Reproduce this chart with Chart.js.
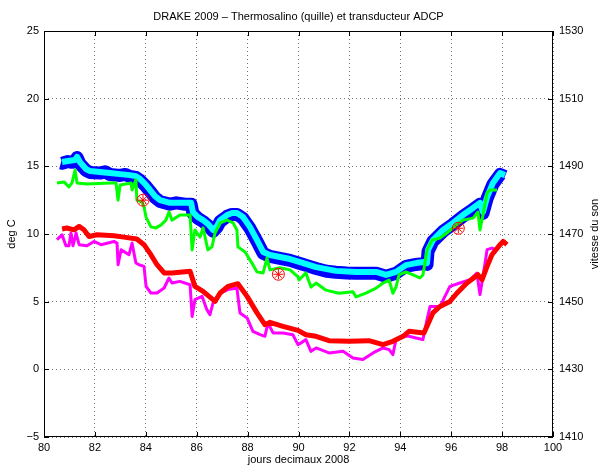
<!DOCTYPE html>
<html>
<head>
<meta charset="utf-8">
<script src="https://cdn.jsdelivr.net/npm/chart.js@4.4.0/dist/chart.umd.min.js"></script>
<style>
  html, body { margin: 0; padding: 0; background: #fff; }
</style>
</head>
<body>
<canvas id="drake" width="602" height="466"></canvas>
<script>
// jours decimaux 2008 et valeurs

// vitesse du son, trace bleu (axe de droite, m/s)
var joursBleu = [80.66,80.71,80.94,81.10,81.22,81.30,81.41,81.65,81.81,82.20,82.40,82.59,82.99,83.20,83.38,83.61,83.77,83.97,84.17,84.36,84.56,84.95,85.20,85.54,85.78,85.85,86.05,86.25,86.44,86.64,86.80,86.92,87.19,87.39,87.58,87.82,88.09,88.37,88.61,88.88,89.27,89.67,90.06,90.40,90.69,91.10,91.47,91.90,92.26,92.70,93.05,93.44,93.83,94.22,94.62,94.93,95.05,95.09,95.28,95.68,96.07,96.46,96.86,97.13,97.25,97.41,97.64,97.92,98.11];
var vitesseBleu = [1491.0,1490.9,1491.4,1491.2,1491.6,1492.6,1490.8,1488.8,1488.2,1488.0,1488.4,1487.6,1487.3,1487.6,1487.0,1486.7,1485.9,1484.4,1482.6,1480.8,1479.6,1478.8,1479.2,1478.8,1478.8,1476.1,1474.6,1473.7,1472.5,1470.8,1472.0,1473.7,1475.2,1475.8,1475.8,1474.6,1471.7,1467.8,1464.3,1463.4,1462.8,1462.2,1461.3,1460.5,1459.8,1459.0,1458.7,1458.5,1458.4,1458.4,1458.4,1457.5,1458.4,1460.4,1461.0,1461.3,1461.0,1464.9,1467.8,1470.8,1472.9,1475.2,1477.3,1478.8,1476.1,1480.5,1484.7,1487.6,1487.0];

// vitesse du son, trace cyan (axe de droite, m/s)
var joursCyan = [80.71,80.94,81.22,81.30,81.41,81.65,81.81,82.20,82.59,82.99,83.38,83.61,83.77,83.97,84.17,84.36,84.56,84.95,85.54,85.78,85.85,86.05,86.25,86.44,86.64,86.80,86.92,87.19,87.39,87.58,87.82,88.09,88.37,88.61,88.88,89.27,89.67,90.06,90.69,91.47,92.26,93.05,93.44,93.83,94.22,94.62,94.93,95.05,95.09,95.28,95.68,96.07,96.46,96.86,97.13,97.25,97.41,97.64,97.92,98.11];
var vitesseCyan = [1491.3,1491.6,1491.9,1492.8,1491.3,1489.2,1488.6,1488.3,1488.0,1487.7,1487.4,1487.1,1486.3,1484.8,1483.0,1481.2,1480.0,1479.2,1479.2,1479.2,1476.5,1475.0,1474.1,1473.0,1471.2,1472.4,1474.1,1475.6,1476.2,1476.2,1475.0,1472.1,1468.2,1464.7,1463.8,1463.2,1462.6,1461.7,1460.2,1459.1,1458.8,1458.8,1457.9,1458.8,1460.8,1461.4,1461.7,1461.4,1465.3,1468.2,1471.2,1473.3,1475.6,1477.7,1479.2,1476.5,1480.9,1485.1,1488.0,1487.4];

// vitesse du son, trace vert (axe de droite, m/s)
var joursVert = [80.51,80.79,80.98,81.10,81.22,81.30,81.69,82.63,82.83,82.91,82.99,83.42,83.46,83.61,83.65,83.85,83.93,84.01,84.20,84.40,84.60,84.79,84.91,85.03,85.34,85.74,85.82,85.93,86.13,86.25,86.44,86.60,86.72,86.92,87.19,87.43,87.58,87.62,87.90,88.17,88.37,88.61,88.76,88.88,89.27,89.67,89.98,90.02,90.29,90.49,90.69,91.08,91.59,92.14,92.26,92.65,93.05,93.32,93.56,93.71,93.83,93.95,94.22,94.50,94.77,94.89,95.05,95.25,95.56,95.83,96.07,96.46,96.86,97.05,97.13,97.25,97.41,97.52,97.80];
var vitesseVert = [1485.1,1485.4,1483.9,1485.1,1488.9,1485.1,1484.8,1485.1,1485.1,1480.0,1484.5,1485.1,1483.0,1486.0,1480.0,1479.5,1478.0,1475.0,1472.1,1471.8,1472.7,1474.1,1476.5,1474.1,1475.6,1475.6,1465.3,1471.2,1469.1,1471.8,1465.3,1466.2,1470.3,1473.3,1474.1,1473.3,1471.2,1466.2,1464.7,1461.4,1458.8,1458.5,1462.9,1459.4,1460.0,1459.4,1457.3,1456.4,1458.5,1454.3,1455.5,1453.4,1452.5,1452.9,1451.4,1452.5,1454.0,1455.5,1456.4,1452.5,1454.3,1457.9,1458.8,1457.9,1457.0,1457.9,1465.3,1468.2,1468.8,1470.3,1471.8,1474.1,1474.7,1476.5,1471.2,1475.6,1482.1,1483.0,1483.0];

// temperature, trace rouge (axe de gauche, deg C)
var joursRouge = [80.71,80.90,81.18,81.38,81.57,81.77,82.08,82.75,83.14,83.65,83.93,84.20,84.44,84.72,85.03,85.74,85.93,86.25,86.72,86.92,87.23,87.62,87.98,88.37,88.68,88.88,89.39,89.98,90.29,90.69,91.20,91.98,92.77,93.32,93.71,94.11,94.34,94.93,95.28,95.56,95.95,96.23,96.62,97.05,97.21,97.41,97.60,97.92,98.04,98.19];
var tempRouge = [10.37,10.44,10.31,10.56,10.31,9.82,9.94,9.87,9.77,9.63,9.21,8.47,7.73,7.12,7.12,7.24,6.13,5.76,5.02,5.64,6.13,6.33,5.39,4.17,3.30,3.47,3.18,2.88,2.56,2.44,2.12,2.07,2.12,1.83,2.07,2.44,2.81,2.69,4.17,4.65,5.02,5.64,6.38,6.99,6.62,7.61,8.47,9.21,9.45,9.21];

// temperature, trace magenta (axe de gauche, deg C)
var joursMagenta = [80.51,80.71,80.86,80.98,81.06,81.14,81.26,81.38,81.69,81.96,82.24,82.75,82.87,82.91,83.03,83.34,83.46,83.61,83.73,83.93,84.01,84.20,84.44,84.72,84.91,85.03,85.34,85.74,85.82,85.93,86.21,86.40,86.52,86.64,86.92,87.23,87.58,87.70,87.98,88.21,88.49,88.68,88.80,89.00,89.39,89.78,89.98,90.10,90.29,90.49,90.69,91.20,91.75,92.14,92.53,92.93,93.32,93.56,93.71,93.83,94.11,94.34,94.62,94.89,95.05,95.17,95.56,95.95,96.34,96.74,97.01,97.13,97.25,97.41,97.60,97.72];
var tempMagenta = [9.58,9.94,9.13,9.13,10.07,9.13,10.07,9.21,9.13,9.45,9.21,9.45,9.33,7.73,8.84,8.47,9.33,7.86,7.73,7.61,6.13,5.64,5.64,6.01,6.75,6.38,6.50,6.25,3.91,5.15,5.39,4.41,4.04,4.90,5.64,5.89,6.01,4.17,3.80,2.81,2.56,2.44,3.43,2.69,2.69,2.56,1.83,1.95,2.20,1.33,1.58,1.21,1.33,0.84,0.72,1.21,1.58,1.46,1.09,2.20,2.44,2.44,2.32,2.20,3.67,4.65,4.65,6.13,6.38,6.62,7.12,5.52,6.87,8.84,8.96,8.84];

// mesures ponctuelles (cercles rouges, axe de droite)
var joursMesure = [83.89, 89.21, 96.28];
var vitesseMesure = [1480.0, 1458.1, 1471.7];

// graduations
var xMin = 80, xMax = 100, xPas = 2;
var tMin = -5, tMax = 25, tPas = 5;
var vMin = 1410, vMax = 1530, vPas = 20;

var titre = "DRAKE 2009 \u2013 Thermosalino (quille) et transducteur ADCP";
var titreX = "jours decimaux 2008";
var titreY = "deg C";
var titreY2 = "vitesse du son";

var police = "'Liberation Sans', Arial, Helvetica, sans-serif";

function points(jours, valeurs) {
  return jours.map(function(j, i) { return { x: j, y: valeurs[i] }; });
}

// pas de separateur de milliers, signe moins typographique
function etiquette(v) {
  return String(v).replace('-', '\u2212');
}

// cadre, petites graduations interieures et titres
var cadrePlugin = {
  id: 'cadre',
  afterDraw: function(chart) {
    var ctx = chart.ctx, a = chart.chartArea;
    var sx = chart.scales.x, sy = chart.scales.y, sy2 = chart.scales.y2;
    ctx.save();
    ctx.strokeStyle = '#000';
    ctx.lineWidth = 1;
    ctx.strokeRect(a.left + 0.5, a.top + 0.5, a.right - a.left - 1, a.bottom - a.top - 1);
    ctx.beginPath();
    sx.ticks.forEach(function(t) {
      var px = Math.round(sx.getPixelForValue(t.value)) + 0.5;
      ctx.moveTo(px, a.bottom); ctx.lineTo(px, a.bottom - 5);
      ctx.moveTo(px, a.top); ctx.lineTo(px, a.top + 5);
    });
    sy.ticks.forEach(function(t) {
      var py = Math.round(sy.getPixelForValue(t.value)) + 0.5;
      ctx.moveTo(a.left, py); ctx.lineTo(a.left + 5, py);
    });
    sy2.ticks.forEach(function(t) {
      var py = Math.round(sy2.getPixelForValue(t.value)) + 0.5;
      ctx.moveTo(a.right, py); ctx.lineTo(a.right - 5, py);
    });
    ctx.stroke();

    ctx.fillStyle = '#000';
    ctx.font = '11px ' + police;
    ctx.textAlign = 'center';
    ctx.textBaseline = 'middle';
    var cx = (a.left + a.right) / 2, cy = (a.top + a.bottom) / 2;
    ctx.fillText(titre, cx, 17);
    ctx.fillText(titreX, cx, 460);
    ctx.save();
    ctx.translate(12, cy);
    ctx.rotate(-Math.PI / 2);
    ctx.fillText(titreY, 0, 0);
    ctx.restore();
    ctx.save();
    ctx.translate(595, cy);
    ctx.rotate(-Math.PI / 2);
    ctx.fillText(titreY2, 0, 0);
    ctx.restore();
    ctx.restore();
  }
};

var grille = { color: 'rgba(0,0,0,0.55)', lineWidth: 1, drawTicks: false };
var bord = { display: false, dash: [1, 3] };
var tickFont = { family: police, size: 11 };

var chart = new Chart(document.getElementById('drake'), {
  type: 'line',
  data: {
    datasets: [
      { label: 'mesure *', data: points(joursMesure, vitesseMesure), yAxisID: 'y2', order: 1,
        showLine: false, pointStyle: 'star', pointRadius: 5, borderColor: '#ff0000', borderWidth: 1, backgroundColor: 'transparent' },
      { label: 'mesure o', data: points(joursMesure, vitesseMesure), yAxisID: 'y2', order: 2,
        showLine: false, pointStyle: 'circle', pointRadius: 6, borderColor: '#ff0000', borderWidth: 1, backgroundColor: 'transparent' },
      { label: 'temp rouge', data: points(joursRouge, tempRouge), yAxisID: 'y', order: 3,
        borderColor: '#ff0000', borderWidth: 5, pointRadius: 0 },
      { label: 'temp magenta', data: points(joursMagenta, tempMagenta), yAxisID: 'y', order: 4,
        borderColor: '#ff00ff', borderWidth: 3, pointRadius: 0 },
      { label: 'vitesse verte', data: points(joursVert, vitesseVert), yAxisID: 'y2', order: 5,
        borderColor: '#00ff00', borderWidth: 3, pointRadius: 0 },
      { label: 'vitesse cyan', data: points(joursCyan, vitesseCyan), yAxisID: 'y2', order: 6,
        borderColor: '#00ffff', borderWidth: 6, pointRadius: 0 },
      { label: 'vitesse bleue', data: points(joursBleu, vitesseBleu), yAxisID: 'y2', order: 7,
        borderColor: '#0000ff', borderWidth: 13, pointRadius: 0 }
    ]
  },
  options: {
    responsive: false,
    animation: false,
    devicePixelRatio: 1,
    layout: { padding: { top: 31, left: 0, right: 0, bottom: 0 } },
    elements: { line: { tension: 0, fill: false, borderJoinStyle: 'round', borderCapStyle: 'butt' } },
    plugins: { legend: { display: false }, tooltip: { enabled: false }, title: { display: false } },
    scales: {
      x: {
        type: 'linear', position: 'bottom', min: xMin, max: xMax,
        ticks: { stepSize: xPas, padding: 4, color: '#000', font: tickFont, maxRotation: 0, callback: etiquette },
        grid: grille, border: bord,
        afterFit: function(s) { s.height = 29; }
      },
      y: {
        type: 'linear', position: 'left', min: tMin, max: tMax,
        ticks: { stepSize: tPas, padding: 5, color: '#000', font: tickFont, callback: etiquette },
        grid: grille, border: bord,
        afterFit: function(s) { s.width = 44; }
      },
      y2: {
        type: 'linear', position: 'right', min: vMin, max: vMax,
        ticks: { stepSize: vPas, padding: 6, color: '#000', font: tickFont, callback: etiquette },
        grid: { display: false, drawTicks: false }, border: { display: false },
        afterFit: function(s) { s.width = 49; }
      }
    }
  },
  plugins: [cadrePlugin]
});
</script>
</body>
</html>
